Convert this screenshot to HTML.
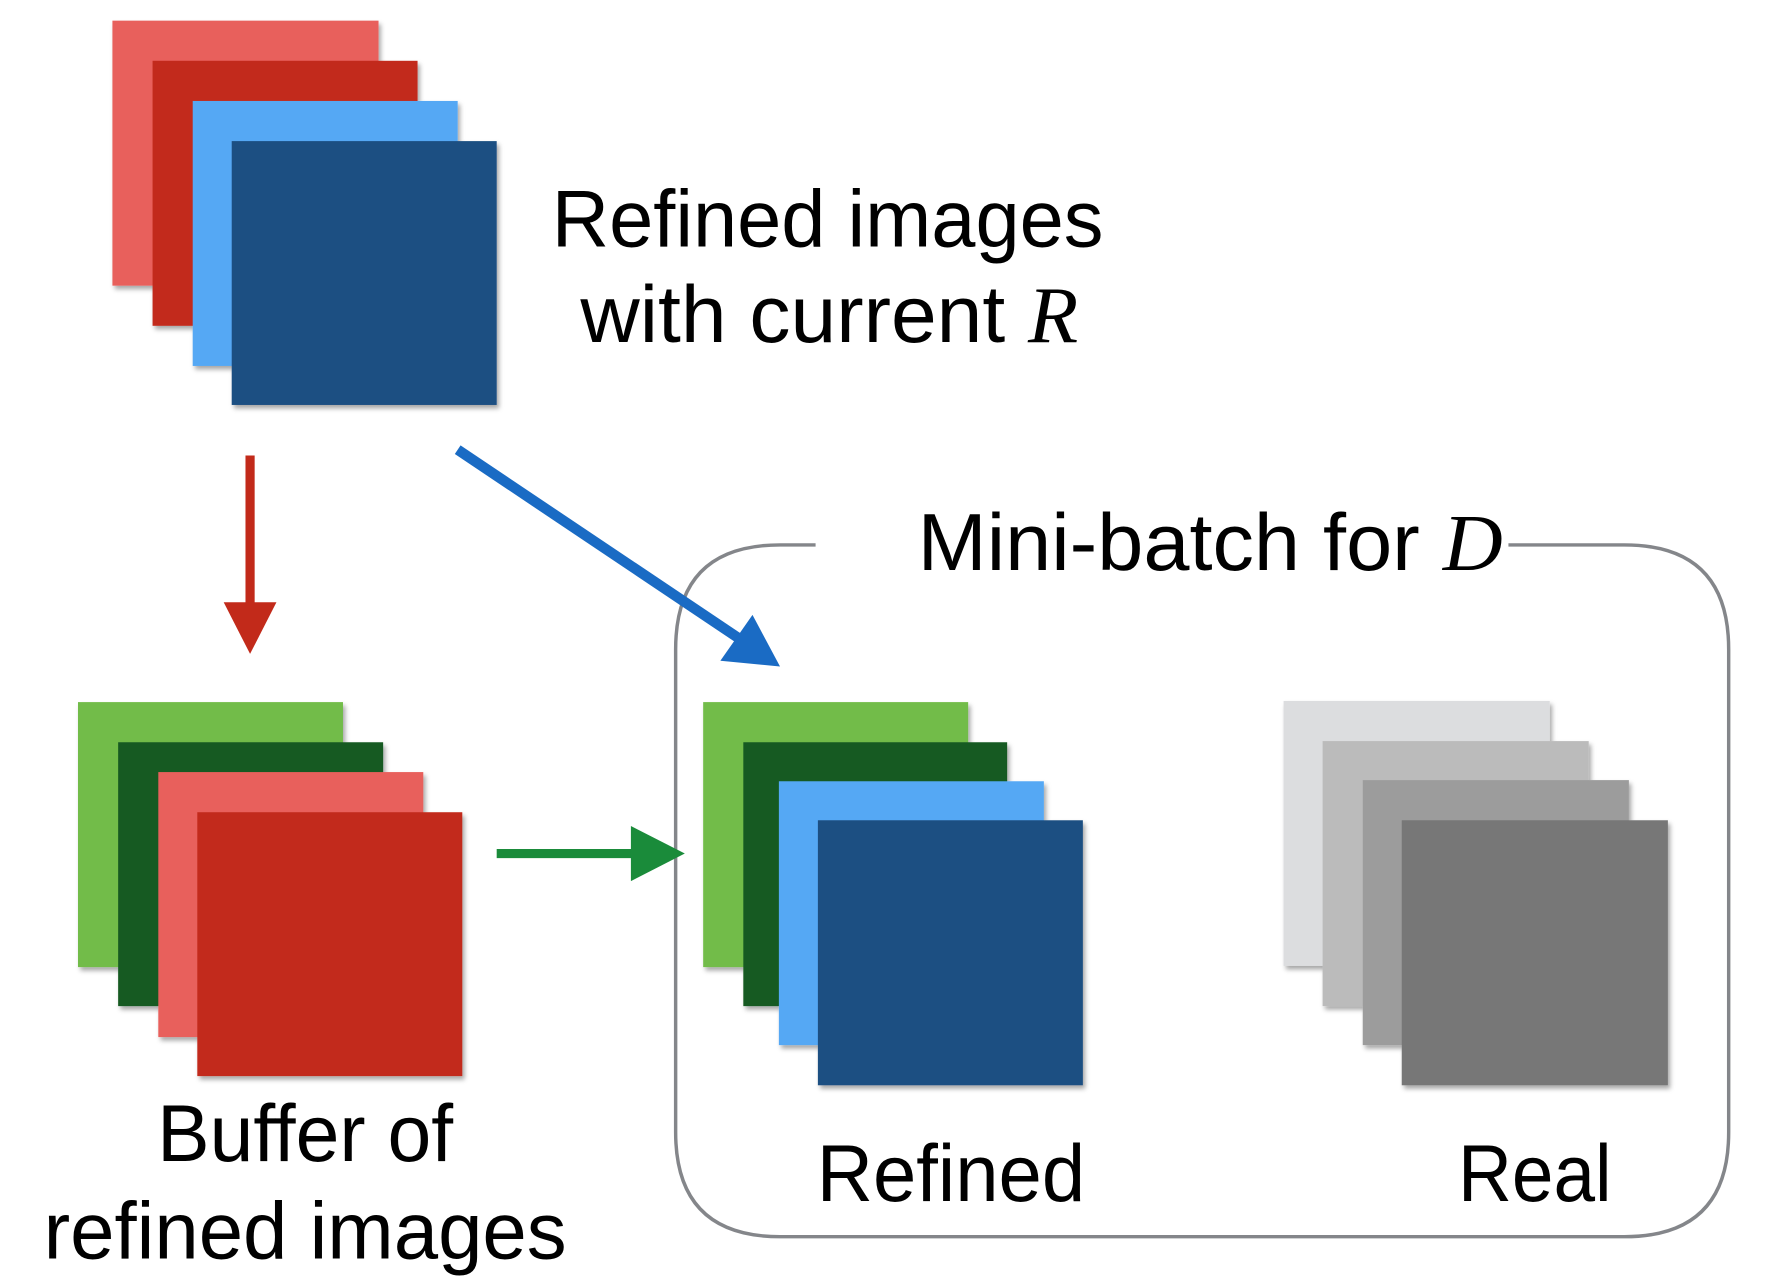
<!DOCTYPE html>
<html><head><style>html,body{margin:0;padding:0;background:#fff}svg{display:block}</style></head>
<body>
<svg width="1778" height="1278" viewBox="0 0 1550 1114" preserveAspectRatio="none" xmlns="http://www.w3.org/2000/svg">
<defs><filter id="s" x="-5%" y="-5%" width="115%" height="115%"><feDropShadow dx="2" dy="3" stdDeviation="2" flood-opacity="0.35"/></filter></defs>
<g filter="url(#s)">
<rect x="98" y="18" width="232" height="231" fill="#E8605C"/>
<rect x="133" y="53" width="231" height="231" fill="#C22A1A"/>
<rect x="168" y="88" width="231" height="231" fill="#55A8F4"/>
<rect x="202" y="123" width="231" height="230" fill="#1D4F82"/>
<rect x="68" y="612" width="231" height="231" fill="#72BC4A"/>
<rect x="103" y="647" width="231" height="230" fill="#145A20"/>
<rect x="138" y="673" width="231" height="231" fill="#E8605C"/>
<rect x="172" y="708" width="231" height="230" fill="#C22A1A"/>
<rect x="613" y="612" width="231" height="231" fill="#72BC4A"/>
<rect x="648" y="647" width="230" height="230" fill="#145A20"/>
<rect x="679" y="681" width="231" height="230" fill="#55A8F4"/>
<rect x="713" y="715" width="231" height="231" fill="#1D4F82"/>
<rect x="1119" y="611" width="232" height="231" fill="#DCDDDF"/>
<rect x="1153" y="646" width="232" height="231" fill="#BBBBBB"/>
<rect x="1188" y="680" width="232" height="231" fill="#9C9C9C"/>
<rect x="1222" y="715" width="232" height="231" fill="#777777"/>
</g>
<path d="M711 475 L680 475 Q589 475 589 566 L589 987 Q589 1078 680 1078 L1416 1078 Q1507 1078 1507 987 L1507 566 Q1507 475 1416 475 L1315 475" fill="none" stroke="#84868A" stroke-width="3"/>
<line x1="218" y1="397" x2="218" y2="528" stroke="#C22A1A" stroke-width="8"/>
<polygon points="195,525 241,525 218,570" fill="#C22A1A"/>
<line x1="399" y1="392" x2="645" y2="557" stroke="#1A6BC4" stroke-width="9"/>
<polygon points="680,581 628,576 656,536" fill="#1A6BC4"/>
<line x1="433" y1="744" x2="555" y2="744" stroke="#1A8B3A" stroke-width="8"/>
<polygon points="550,720 550,768 597,744" fill="#1A8B3A"/>
<g font-family="Liberation Sans, sans-serif" font-size="70" fill="#000" lengthAdjust="spacingAndGlyphs">
<text x="481" y="215" textLength="481" lengthAdjust="spacingAndGlyphs">Refined images</text>
<text x="506" y="298" textLength="434" lengthAdjust="spacingAndGlyphs">with current <tspan font-family="Liberation Serif, serif" font-style="italic">R</tspan></text>
<text x="800" y="497" textLength="510" lengthAdjust="spacingAndGlyphs">Mini-batch for <tspan font-family="Liberation Serif, serif" font-style="italic">D</tspan></text>
<text x="137" y="1012" textLength="258" lengthAdjust="spacingAndGlyphs">Buffer of</text>
<text x="38" y="1097" textLength="456" lengthAdjust="spacingAndGlyphs">refined images</text>
<text x="712" y="1047" textLength="234" lengthAdjust="spacingAndGlyphs">Refined</text>
<text x="1271" y="1047" textLength="134" lengthAdjust="spacingAndGlyphs">Real</text>
</g>
</svg>
</body></html>
